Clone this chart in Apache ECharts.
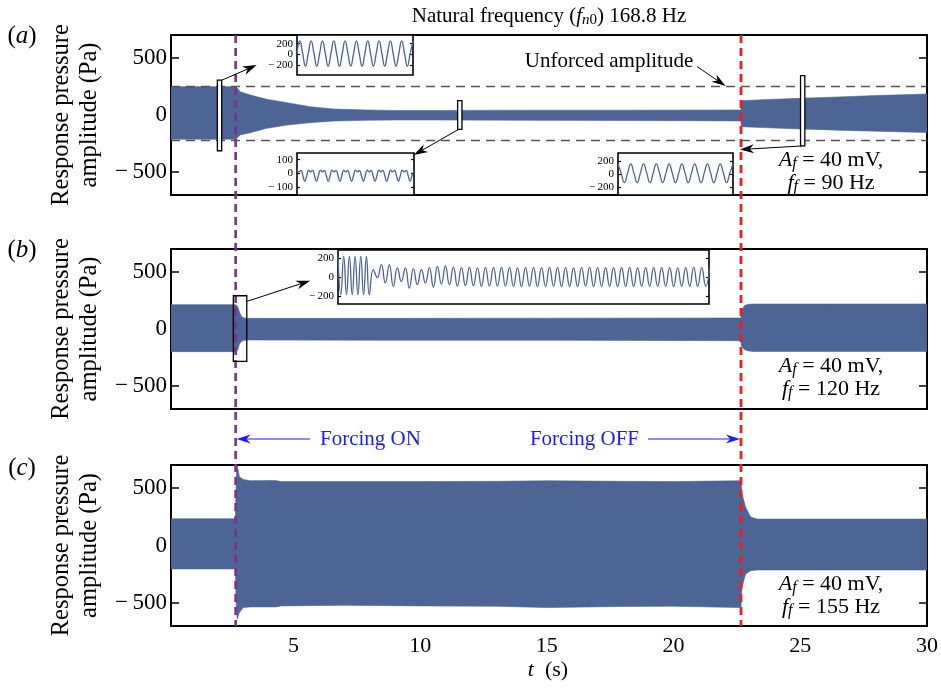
<!DOCTYPE html>
<html>
<head>
<meta charset="utf-8">
<script src="https://cdn.jsdelivr.net/npm/echarts@6/dist/echarts.min.js"></script>
<style>
html, body { margin: 0; padding: 0; background: #fff; }
#chart { width: 941px; height: 690px; }
</style>
</head>
<body>
<div id="chart"></div>
<script>
// envelope of the response pressure (Pa) against time (s)
// (a) Af = 40 mV, ff = 90 Hz
const aTime  = [0.17, 2.71, 2.76, 2.9, 3.3, 3.95, 4.75, 5.65, 6.6, 7.9, 9, 11, 14, 18, 22.66, 22.67, 23.5, 25, 26.5, 28, 30]
const aUpper = [248, 248, 240, 204, 175, 137, 108, 73, 52, 44, 40, 40, 42, 42, 44, 125, 134, 146, 158, 170, 184]
const aLower = [-212, -212, -205, -175, -155, -117, -88, -67, -53, -46, -44, -44, -46, -48, -52, -102, -110, -122, -133, -142, -153]
// (b) Af = 40 mV, ff = 120 Hz
const bTime  = [0.17, 2.71, 2.8, 2.87, 2.95, 3.03, 3.15, 8, 15, 22.66, 22.67, 22.8, 22.95, 23.15, 26, 30]
const bUpper = [213, 213, 200, 150, 110, 98, 93, 93, 95, 96, 160, 205, 216, 219, 219, 219]
const bLower = [-198, -198, -185, -131, -110, -100, -96, -98, -98, -102, -146, -180, -192, -196, -196, -196]
// (c) Af = 40 mV, ff = 155 Hz
const cTime  = [0.17, 2.71, 2.74, 2.78, 2.87, 3.02, 3.3, 4.3, 4.5, 7, 10, 13, 15, 18, 20, 22.66, 22.7, 22.84, 23.04, 23.3, 26, 30]
const cUpper = [233, 233, 560, 700, 598, 575, 563, 566, 556, 556, 556, 558, 563, 558, 556, 563, 452, 335, 248, 230, 230, 230]
const cLower = [-204, -204, -500, -641, -583, -540, -534, -534, -525, -520, -525, -528, -540, -530, -528, -540, -365, -248, -219, -213, -213, -213]

// inset waveforms (Pa), quarter-period samples
const insetA1 = [18, 250, 18, -215, 18, 250, 18, -215, 18, 250, 18, -215, 18, 250, 18, -215, 18, 250, 18, -215,
  18, 250, 18, -215, 18, 250, 18, -215, 18, 250, 18, -215, 18, 250, 18, -215, 18, 250, 18, -215, 18, 250]
// six samples per cycle
const insetA2 = [24, 12, 22, -15, -58, -15, 24, 12, 22, -15, -58, -15, 24, 12, 22, -15, -58, -15, 24, 12, 22, -15, -58, -15,
  24, 12, 22, -15, -58, -15, 24, 12, 22, -15, -58, -15, 24, 12, 22, -15, -58, -15, 24, 12, 22, -15, -58, -15,
  24, 12, 22, -15, -58, -15, 24, 12, 22, -15, -58, -15, 24]
const insetA3 = [165, 20, -125, 20, 165, 20, -125, 20, 165, 20, -125, 20, 165, 20, -125, 20, 165, 20, -125, 20,
  165, 20, -125, 20, 165, 20, -125, 20, 165, 20, -125, 20, 165, 20, -125, 20, 165]
// (b) inset: peaks/troughs before forcing (natural freq) and after (120 Hz)
const insetBPre = [217, -186, 217, -186, 217, -186, 217, -186, 217, -186, 217, -186]
const insetBPost = [
  77, -7, 130, -63, 130, -99, 95, -46, 95, -116,
  88, -81, 77, -63, 100, -109, 112, -75, 116, -81,
  105, -95, 98, -90, 102, -92, 96, -98, 100, -95,
  98, -97, 101, -96, 99, -98, 97, -99, 100, -97,
  98, -100, 99, -98, 101, -97, 98, -99, 100, -98,
  97, -100, 99, -97, 101, -99, 98, -98, 100, -97,
  99, -100, 98, -98, 101, -99, 97, -97, 100, -98,
  99, -99, 98, -97, 100, -100, 97, -98, 99, -99,
  101, -98, 98, -97, 100]
const natFreq = 168.8
const forceFreqB = 120

const tTicks = [5, 10, 15, 20, 25, 30]
const pTicks = [-500, 0, 500]
const forceOn = 2.72
const forceOff = 22.66
const unforcedUp = 248
const unforcedLow = -219

const FILL = '#4d6594'
const SERIF = 'Liberation Serif'
const minus = v => String(v).replace('-', '\u2212\u2009')

const chart = echarts.init(document.getElementById('chart'))

function mainGrid(top, h) {
  return { left: 171, top: top, width: 756, height: h, show: true, borderColor: '#000', borderWidth: 2, backgroundColor: 'transparent' }
}
function insetGrid(left, top, w, h) {
  return { left: left, top: top, width: w, height: h, show: true, borderColor: '#000', borderWidth: 1.6, backgroundColor: '#fff' }
}
function mainY(g) {
  return [{
    gridIndex: g, type: 'value', min: -700, max: 700, position: 'left',
    axisLine: { show: false }, splitLine: { show: false },
    axisTick: { inside: true, length: 8, customValues: pTicks, lineStyle: { color: '#000', width: 1.5 } },
    axisLabel: { customValues: pTicks, formatter: minus, fontFamily: SERIF, fontSize: 23, color: '#000', margin: 4 },
    name: 'Response pressure\namplitude (Pa)', nameLocation: 'middle', nameRotate: 90, nameGap: 67,
    nameTextStyle: { fontFamily: SERIF, fontSize: 24.5, lineHeight: 28, color: '#000' }
  }, {
    gridIndex: g, type: 'value', min: -700, max: 700, position: 'right',
    axisLine: { show: false }, splitLine: { show: false }, axisLabel: { show: false },
    axisTick: { inside: true, length: 8, customValues: pTicks, lineStyle: { color: '#000', width: 1.5 } }
  }]
}
function insetY(g, min, max, ticks) {
  return [{
    gridIndex: g, type: 'value', min: min, max: max, position: 'left',
    axisLine: { show: false }, splitLine: { show: false },
    axisTick: { inside: true, length: 3, customValues: ticks, lineStyle: { color: '#000', width: 1.2 } },
    axisLabel: {
      customValues: ticks, formatter: minus, fontFamily: SERIF, fontSize: 11, lineHeight: 8, color: '#000', margin: 4,
      hideOverlap: false, showMinLabel: true, showMaxLabel: true
    }
  }, {
    gridIndex: g, type: 'value', min: min, max: max, position: 'right',
    axisLine: { show: false }, splitLine: { show: false }, axisLabel: { show: false },
    axisTick: { inside: true, length: 3, customValues: ticks, lineStyle: { color: '#000', width: 1.2 } }
  }]
}
// filled band between the lower and the upper envelope
function band(xi, yi, time, upper, lower) {
  return {
    type: 'custom', xAxisIndex: xi, yAxisIndex: yi, silent: true, clip: true,
    data: time.map((t, i) => [t, upper[i], lower[i]]),
    encode: { x: 0, y: [1, 2] },
    renderItem: function (params, api) {
      if (params.dataIndex !== 0) return null
      const top = time.map((t, i) => api.coord([t, upper[i]]))
      const bot = time.map((t, i) => api.coord([t, lower[i]])).reverse()
      return {
        type: 'polygon',
        shape: { points: top.concat(bot) },
        style: { fill: FILL, stroke: FILL, lineWidth: 0.6 }
      }
    }
  }
}
function wave(xi, yi, xs, vals) {
  return {
    type: 'line', xAxisIndex: xi, yAxisIndex: yi,
    data: vals.map((v, i) => [xs[i], v]),
    symbol: 'none', smooth: 0.5, silent: true,
    lineStyle: { width: 1.3, color: FILL }
  }
}
const idx = arr => arr.map((v, i) => i)

// time base of the (b) inset, ms
const bPreStep = 1000 / natFreq / 2
const bPostStep = 1000 / forceFreqB / 2
const insetBTime = insetBPre.map((v, i) => i * bPreStep)
  .concat(insetBPost.map((v, j) => (insetBPre.length - 1) * bPreStep + (j + 1) * bPostStep))
const insetBVal = insetBPre.concat(insetBPost)

const option = {
  animation: false,
  backgroundColor: '#fff',
  grid: [
    mainGrid(35, 160), mainGrid(249, 160), mainGrid(465, 161),
    insetGrid(297, 35, 116, 40), insetGrid(297, 153, 117, 42),
    insetGrid(618, 153, 115, 42), insetGrid(338, 250, 371, 54)
  ],
  xAxis: [
    { gridIndex: 0, type: 'value', min: 0.17, max: 30, show: false },
    { gridIndex: 1, type: 'value', min: 0.17, max: 30, show: false },
    {
      gridIndex: 2, type: 'value', min: 0.17, max: 30, position: 'bottom',
      axisLine: { show: false }, splitLine: { show: false },
      axisTick: { inside: true, length: 8, customValues: tTicks, lineStyle: { color: '#000', width: 1.5 } },
      axisLabel: { customValues: tTicks, fontFamily: SERIF, fontSize: 22, color: '#000', margin: 9 }
    },
    {
      gridIndex: 2, type: 'value', min: 0.17, max: 30, position: 'top',
      axisLine: { show: false }, splitLine: { show: false }, axisLabel: { show: false },
      axisTick: { inside: true, length: 8, customValues: tTicks, lineStyle: { color: '#000', width: 1.5 } }
    },
    { gridIndex: 3, type: 'value', min: 0, max: insetA1.length - 1, show: false },
    { gridIndex: 4, type: 'value', min: 0, max: insetA2.length - 1, show: false },
    { gridIndex: 5, type: 'value', min: 0, max: insetA3.length - 1, show: false },
    { gridIndex: 6, type: 'value', min: 0, max: 386, show: false }
  ],
  yAxis: [].concat(
    mainY(0), mainY(1), mainY(2),
    insetY(3, -380, 360, [-200, 0, 200]),
    insetY(4, -157, 149, [-100, 0, 100]),
    insetY(5, -318, 332, [-200, 0, 200]),
    insetY(6, -285, 285, [-200, 0, 200])
  ),
  series: [
    band(0, 0, aTime, aUpper, aLower),
    {
      type: 'line', xAxisIndex: 0, yAxisIndex: 0, data: [], silent: true,
      markLine: {
        silent: true, symbol: 'none', label: { show: false }, animation: false,
        lineStyle: { color: '#555', width: 1.3, type: [9, 6] },
        data: [{ yAxis: unforcedUp }, { yAxis: unforcedLow }]
      }
    },
    band(1, 2, bTime, bUpper, bLower),
    band(2, 4, cTime, cUpper, cLower),
    wave(4, 6, idx(insetA1), insetA1),
    wave(5, 8, idx(insetA2), insetA2),
    wave(6, 10, idx(insetA3), insetA3),
    wave(7, 12, insetBTime, insetBVal)
  ]
}
chart.setOption(option)

// annotations, placed from data coordinates
const RICH = {
  r: { fontFamily: SERIF, fontSize: 21, fill: '#000', lineHeight: 24 },
  i: { fontFamily: SERIF, fontSize: 21, fontStyle: 'italic', fill: '#000', lineHeight: 24 },
  s: { fontFamily: SERIF, fontSize: 15, fontStyle: 'italic', fill: '#000', verticalAlign: 'bottom', lineHeight: 14 },
  sr: { fontFamily: SERIF, fontSize: 15, fill: '#000', verticalAlign: 'bottom', lineHeight: 14 },
  R: { fontFamily: SERIF, fontSize: 22, fill: '#000', lineHeight: 23 },
  I: { fontFamily: SERIF, fontSize: 22, fontStyle: 'italic', fill: '#000', lineHeight: 23 },
  S: { fontFamily: SERIF, fontSize: 16, fontStyle: 'italic', fill: '#000', verticalAlign: 'bottom', lineHeight: 14 },
  L: { fontFamily: SERIF, fontSize: 25, fill: '#000' },
  LI: { fontFamily: SERIF, fontSize: 25, fontStyle: 'italic', fill: '#000' },
  b: { fontFamily: SERIF, fontSize: 21, fill: '#1a1aff', lineHeight: 24 }
}
function txt(x, y, text, align) {
  return { type: 'text', x: x, y: y, z: 100, style: { text: text, rich: RICH, align: align || 'center', verticalAlign: 'middle', font: '21px ' + SERIF } }
}
function arrow(p1, p2, color, lw) {
  const a = Math.atan2(p2[1] - p1[1], p2[0] - p1[0])
  const L = 14, W = 4.5
  const ca = Math.cos(a), sa = Math.sin(a)
  const bx = p2[0] - L * ca, by = p2[1] - L * sa
  const nx = p2[0] - L * 0.7 * ca, ny = p2[1] - L * 0.7 * sa
  return [
    { type: 'line', z: 60, shape: { x1: p1[0], y1: p1[1], x2: nx, y2: ny }, style: { stroke: color, lineWidth: lw } },
    { type: 'polygon', z: 61, shape: { points: [p2, [bx - W * sa, by + W * ca], [nx, ny], [bx + W * sa, by - W * ca]] }, style: { fill: color } }
  ]
}

const P = (g, t, v) => chart.convertToPixel({ gridIndex: g }, [t, v])
const els = []
const xOn = P(0, forceOn, 0)[0]
const xOff = P(0, forceOff, 0)[0]
const yTop = P(0, 0, 700)[1]
const yBot = P(2, 0, -700)[1]
els.push({ type: 'line', z: 50, shape: { x1: xOn, y1: yTop, x2: xOn, y2: yBot }, style: { stroke: '#7e2f8e', lineWidth: 2.6, lineDash: [8, 5] } })
els.push({ type: 'line', z: 50, shape: { x1: xOff, y1: yTop, x2: xOff, y2: yBot }, style: { stroke: '#f01c1c', lineWidth: 2.8, lineDash: [8, 5] } })

// zoom boxes
const boxes = [
  { g: 0, t0: 2.0, t1: 2.17, v0: -313, v1: 306, fill: '#fff' },
  { g: 0, t0: 11.48, t1: 11.65, v0: -125, v1: 125, fill: '#fff' },
  { g: 0, t0: 25.01, t1: 25.18, v0: -271, v1: 344, fill: '#fff' },
  { g: 1, t0: 2.63, t1: 3.16, v0: -283, v1: 291, fill: 'none' }
]
boxes.forEach(b => {
  const p0 = P(b.g, b.t0, b.v1), p1 = P(b.g, b.t1, b.v0)
  els.push({ type: 'rect', z: 55, shape: { x: p0[0], y: p0[1], width: p1[0] - p0[0], height: p1[1] - p0[1] }, style: { fill: b.fill, stroke: '#000', lineWidth: 1.3 } })
})

// black arrows
const arrows = [
  { g: 0, from: [2.13, 300], to: [3.55, 437] },
  { g: 0, from: [11.5, -128], to: [9.75, -350] },
  { g: 0, from: [25.06, -271], to: [22.62, -302] },
  { g: 0, from: [20.93, 423], to: [22.05, 254] },
  { g: 1, from: [3.16, 241], to: [5.66, 423] }
]
arrows.forEach(a => {
  arrow(P(a.g, a.from[0], a.from[1]), P(a.g, a.to[0], a.to[1]), '#000', 1).forEach(e => els.push(e))
})

// forcing on / off
const yF = 439
arrow([310, yF], [xOn + 1, yF], '#1a1aff', 1.2).forEach(e => els.push(e))
arrow([648, yF], [xOff - 1, yF], '#1a1aff', 1.2).forEach(e => els.push(e))
els.push(txt(320, yF, '{b|Forcing ON}', 'left'))
els.push(txt(639, yF, '{b|Forcing OFF}', 'right'))

// texts
els.push(txt(549, 16, '{r|Natural frequency (}{i|f}{s|n}{sr|0}{r|) 168.8 Hz}'))
els.push(txt(609, 61, '{r|Unforced amplitude}'))
els.push(txt(22, 36, '{L|(}{LI|a}{L|)}'))
els.push(txt(22, 250, '{L|(}{LI|b}{L|)}'))
els.push(txt(22, 468, '{L|(}{LI|c}{L|)}'))
els.push(txt(831, 172, '{I|A}{S|f}{R| = 40 mV,}\n{I|f}{S|f}{R| = 90 Hz}'))
els.push(txt(831, 378, '{I|A}{S|f}{R| = 40 mV,}\n{I|f}{S|f}{R| = 120 Hz}'))
els.push(txt(831, 596, '{I|A}{S|f}{R| = 40 mV,}\n{I|f}{S|f}{R| = 155 Hz}'))
els.push(txt(548, 670, '{I|t}{R|  (s)}'))

chart.setOption({ graphic: els })
</script>
</body>
</html>
